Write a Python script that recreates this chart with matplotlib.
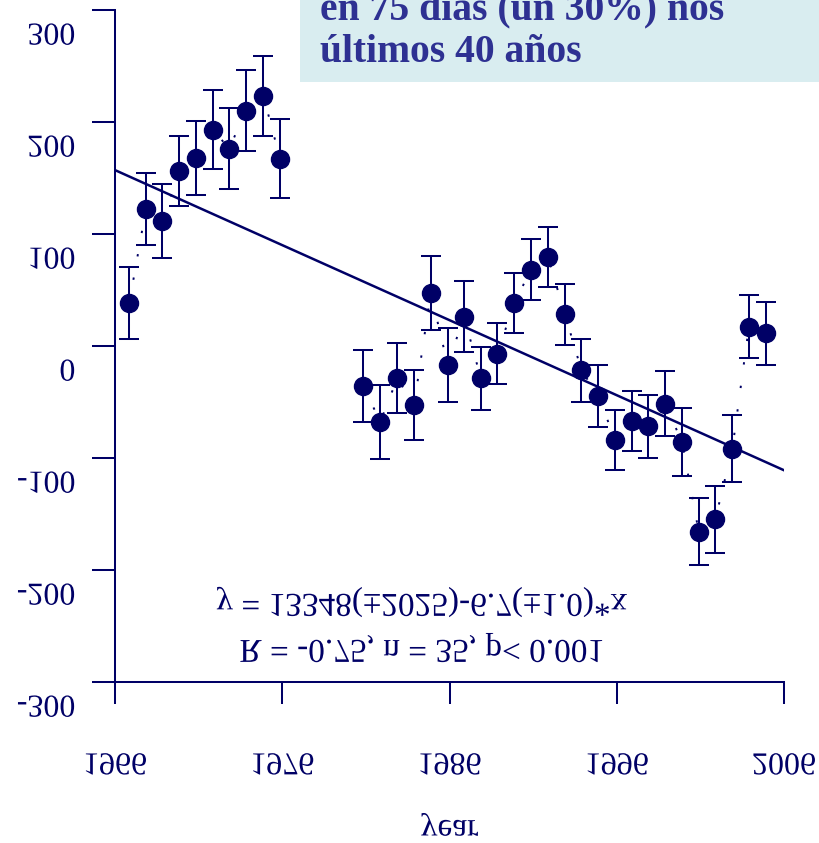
import matplotlib
matplotlib.use("Agg")
import matplotlib.pyplot as plt
from matplotlib.patches import Rectangle
from matplotlib.patheffects import AbstractPathEffect
from matplotlib.transforms import Affine2D

# data
years_a = [1966.85, 1967.85, 1968.83, 1969.83, 1970.86, 1971.84, 1972.83, 1973.83, 1974.87, 1975.87]
values_a = [38, 122, 111, 156, 168, 193, 176, 210, 223, 167]
errors_a = [32, 32, 33, 31, 33, 35, 36, 36, 36, 35]

years_b = [1980.85, 1981.86, 1982.88, 1983.88, 1984.88, 1985.89, 1986.87, 1987.87, 1988.86,
           1989.87, 1990.87, 1991.89, 1992.90, 1993.89, 1994.90, 1995.90, 1996.89, 1997.89,
           1998.90, 1999.90, 2000.90, 2001.89, 2002.91, 2003.90, 2004.90]
values_b = [-36, -68, -29, -53, 47, -17, 26, -29, -7, 38, 68, 79, 28, -22, -45, -84, -67, -72,
            -52, -86, -166, -155, -92, 17, 11]
errors_b = [32, 33, 31, 31, 33, 33, 32, 28, 27, 27, 27, 27, 27, 28, 28, 27, 27, 28, 29, 30, 30,
            30, 30, 28, 28]

fit_years = [1966, 2006]
fit_intercept = 13329
fit_slope = -6.7

x_ticks = [1966, 1976, 1986, 1996, 2006]
y_ticks = [-300, -200, -100, 0, 100, 200, 300]

eq_line1 = "y = 13348(\u00b12025)-6.7(\u00b11.0)*x"
eq_line2 = "R = -0.75, n = 35, p< 0.001"
box_line1 = "en 75 días (un 30%) nos"
box_line2 = "últimos 40 años"

navy = "#000066"
box_text = "#2e3192"
box_fill = "#d9edf0"


class Flip(AbstractPathEffect):
    # glyphs are mirrored upside down about their baseline, like in the original
    def draw_path(self, renderer, gc, tpath, affine, rgbFace=None):
        renderer.draw_path(gc, tpath, Affine2D().scale(1, -1) + affine, rgbFace)


plt.rcParams['font.family'] = ['Liberation Serif', 'DejaVu Serif']
plt.rcParams['axes.unicode_minus'] = False

fig = plt.figure(figsize=(8.19, 8.43), dpi=100)
ax = fig.add_axes([0.1404, 0.1913, 0.8169, 0.7972])

fit_values = [fit_intercept + fit_slope * x for x in fit_years]
ax.plot(fit_years, fit_values, color=navy, lw=1.8, zorder=2)

for xs, ys, es in [(years_a, values_a, errors_a), (years_b, values_b, errors_b)]:
    ax.plot(xs, ys, color=navy, lw=1.4, linestyle=(0, (1.2, 11)), zorder=1)
    ax.errorbar(xs, ys, yerr=es, fmt='o', color=navy, ms=13, elinewidth=1.45,
                capsize=7.5, capthick=1.45, zorder=3)

ax.set_xlim(1966, 2006)
ax.set_ylim(-300, 300)
ax.set_xticks(x_ticks)
ax.set_yticks(y_ticks)
ax.spines['top'].set_visible(False)
ax.spines['right'].set_visible(False)
for s in ['left', 'bottom']:
    ax.spines[s].set_color(navy)
    ax.spines[s].set_linewidth(1.45)
ax.tick_params(axis='both', colors=navy, width=1.45, labelsize=23)
ax.tick_params(axis='y', length=16.5, pad=12)
ax.tick_params(axis='x', length=15.8, pad=20)

# push the y labels a little lower, as in the reference
shift = Affine2D().translate(0, -3)
for t in ax.yaxis.get_major_ticks():
    t.label1.set_path_effects([Flip()])
    t.label1.set_transform(t.label1.get_transform() + shift)
for t in ax.xaxis.get_major_ticks():
    t.label1.set_path_effects([Flip()])

ax.set_xlabel("year", fontsize=24, color=navy)
ax.xaxis.label.set_va('baseline')
ax.xaxis.set_label_coords(0.5, -0.206)
ax.xaxis.label.set_path_effects([Flip()])

ax.text(1984.36, -221.7, eq_line1, fontsize=24, color=navy, ha='center', va='baseline',
        path_effects=[Flip()])
ax.text(1984.36, -262.8, eq_line2, fontsize=24, color=navy, ha='center', va='baseline',
        path_effects=[Flip()])

# caption box from the slide, cut off at the top like in the reference
fig.patches.append(Rectangle((0.3663, 0.9027), 0.64, 0.1, transform=fig.transFigure,
                             facecolor=box_fill, edgecolor='none', zorder=0))
fig.text(0.3907, 0.9775, box_line1, fontsize=28.5, fontweight='bold', color=box_text,
         va='baseline')
fig.text(0.3907, 0.9265, box_line2, fontsize=28.5, fontweight='bold', color=box_text,
         va='baseline')

fig.savefig("out.png", dpi=100)
